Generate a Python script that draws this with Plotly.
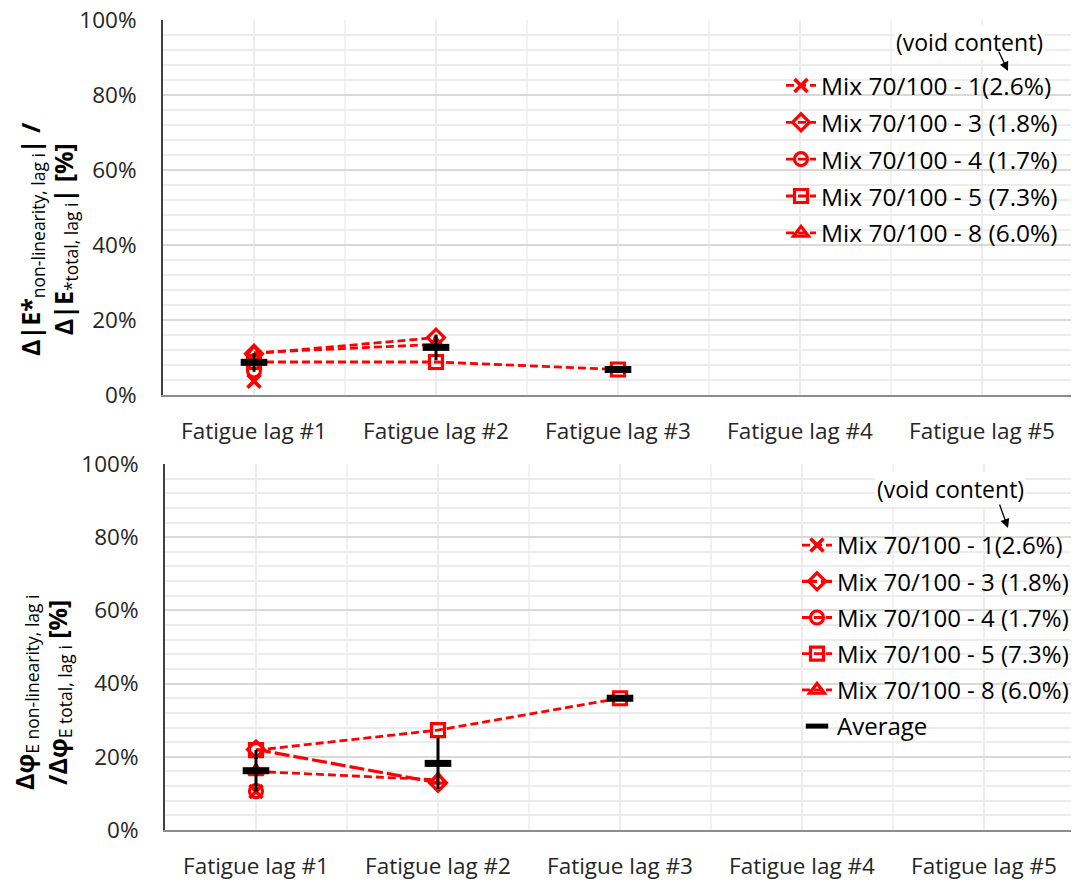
import plotly.graph_objects as go

categories = ["Fatigue lag #1", "Fatigue lag #2", "Fatigue lag #3", "Fatigue lag #4", "Fatigue lag #5"]
series_names = ["Mix 70/100 - 1(2.6%)", "Mix 70/100 - 3 (1.8%)", "Mix 70/100 - 4 (1.7%)",
                "Mix 70/100 - 5 (7.3%)", "Mix 70/100 - 8 (6.0%)"]
y_ticks = [0, 20, 40, 60, 80, 100]
y_tick_text = ["0%", "20%", "40%", "60%", "80%", "100%"]

# Top panel: Δ|E*non-linearity| / Δ|E*total| [%]
top_mix1 = [3.7]
top_mix3 = [11.0, 15.3]
top_mix4 = [6.5]
top_mix5 = [8.8, 8.8, 6.8]
top_mix8 = [11.3, 13.5]
top_avg = [8.7, 12.7, 6.8]
top_avg_err = [2.5, 3.4, 0.0]

# Bottom panel: ΔφE non-linearity / ΔφE total [%]
bot_mix1 = [10.5]
bot_mix3 = [22.0, 12.9]
bot_mix4 = [10.6]
bot_mix5 = [21.8, 27.3, 36.0]
bot_mix8 = [16.0, 13.7]
bot_avg = [16.2, 18.2, 36.0]
bot_avg_err = [5.7, 7.0, 0.0]

W, H = 1079, 883
OFF = 8  # page body offset of the plot div
RED = "#ff0000"
FONT = "Open Sans"
symbols = ["x-thin", "diamond-open", "circle-open", "square-open", "triangle-up-open"]


def px_x(p):
    return (p - OFF) / W


def px_y(p):
    return 1 - (p - OFF) / H


fig = go.Figure()


def add_panel(values, avg, err, xa, ya, legend, show_avg_legend, dashes):
    for i, (name, vals) in enumerate(zip(series_names, values)):
        sym = symbols[i]
        mline = dict(color=RED, width=3.6 if sym == "x-thin" else 3.2)
        fig.add_trace(go.Scatter(
            x=categories[:len(vals)], y=vals, name=name, mode="lines+markers",
            xaxis=xa, yaxis=ya, legend=legend, legendgroup=legend + str(i),
            line=dict(color=RED, width=dashes[i][1], dash=dashes[i][0]),
            marker=dict(symbol=sym, size=13, color=RED, line=mline),
        ))
    fig.add_trace(go.Scatter(
        x=categories[:len(avg)], y=avg, name="Average", mode="markers",
        xaxis=xa, yaxis=ya, legend=legend, legendgroup=legend + "avg",
        showlegend=show_avg_legend,
        marker=dict(symbol="line-ew", size=19, color="black", line=dict(color="black", width=7)),
        error_y=dict(type="data", array=err, visible=True, color="black", thickness=3, width=0),
    ))


short = ("8px,4px", 2.8)
add_panel([top_mix1, top_mix3, top_mix4, top_mix5, top_mix8], top_avg, top_avg_err,
          "x", "y", "legend", False, [short] * 5)
add_panel([bot_mix1, bot_mix3, bot_mix4, bot_mix5, bot_mix8], bot_avg, bot_avg_err,
          "x2", "y2", "legend2", True, [short, ("15px,4px", 3.2), short, short, short])

tick_font = dict(family=FONT, size=22.5, color="#262626")


def xaxis(dom, anchor):
    return dict(domain=dom, anchor=anchor, type="category", categoryarray=categories,
                range=[-0.5, 4.5], showgrid=True, gridcolor="#ececec", gridwidth=1.5,
                showline=True, linecolor="#8c8c8c", linewidth=2, ticks="",
                tickfont=tick_font, ticklabelstandoff=15, zeroline=False, fixedrange=True,
                automargin=False, ticklabeloverflow="allow")


def yaxis(dom, anchor):
    return dict(domain=dom, anchor=anchor, range=[0, 100], tickmode="array",
                tickvals=y_ticks, ticktext=y_tick_text,
                showgrid=True, gridcolor="#d9d9d9", gridwidth=1.5,
                minor=dict(dtick=4, showgrid=True, gridcolor="#ececec", gridwidth=1.5),
                showline=True, linecolor="#404040", linewidth=2, ticks="",
                tickfont=tick_font, ticklabelstandoff=20, zeroline=False, fixedrange=True,
                automargin=False, ticklabeloverflow="allow")


top_x = [px_x(163), px_x(1073)]
top_y = [px_y(395), px_y(20)]
bot_x = [px_x(165), px_x(1075)]
bot_y = [px_y(830), px_y(464)]

shapes = []
for xr, yr in (("x", "y"), ("x2", "y2")):
    for b in [0.5, 1.5, 2.5, 3.5, 4.5]:
        shapes.append(dict(type="line", xref=xr, yref=yr, x0=b, x1=b, y0=0, y1=100,
                           line=dict(color="#ececec", width=1.5), layer="below"))

ann_font = dict(family=FONT, size=23, color="black")
title_font = dict(family=FONT, size=25, color="black")
annotations = [
    dict(text="<b>Δ|E*</b><sub>non-linearity, lag i</sub><b>| /</b><br>"
              "<b>Δ|E</b><sub>*total, lag i</sub><b>| [%]</b>",
         xref="paper", yref="paper", x=px_x(48), y=px_y(239), textangle=-90,
         showarrow=False, font=title_font, xanchor="center", yanchor="middle"),
    dict(text="<b>Δφ</b><sub>E non-linearity, lag i</sub><br>"
              "<b>/Δφ</b><sub>E total, lag i</sub><b> [%]</b>",
         xref="paper", yref="paper", x=px_x(42), y=px_y(692), textangle=-90,
         showarrow=False, font=title_font, xanchor="center", yanchor="middle"),
    dict(text="(void content)", xref="paper", yref="paper", x=px_x(969), y=px_y(42),
         showarrow=False, font=ann_font, bgcolor="white", xanchor="center", yanchor="middle"),
    dict(text="(void content)", xref="paper", yref="paper", x=px_x(950), y=px_y(489),
         showarrow=False, font=ann_font, bgcolor="white", xanchor="center", yanchor="middle"),
    dict(text="", xref="paper", yref="paper", x=px_x(1008), y=px_y(71), ax=-10, ay=-21,
         showarrow=True, arrowhead=2, arrowsize=1.4, arrowwidth=1.3, arrowcolor="black"),
    dict(text="", xref="paper", yref="paper", x=px_x(1008), y=px_y(528), ax=-9, ay=-25,
         showarrow=True, arrowhead=2, arrowsize=1.4, arrowwidth=1.3, arrowcolor="black"),
]

legend_common = dict(xanchor="left", yanchor="top", bgcolor="rgba(0,0,0,0)",
                     traceorder="grouped", tracegroupgap=2, itemwidth=30)

fig.update_layout(
    width=W, height=H, margin=dict(l=0, r=0, t=0, b=0, autoexpand=False),
    paper_bgcolor="white", plot_bgcolor="white",
    font=dict(family=FONT, color="black"),
    xaxis=xaxis(top_x, "y"), yaxis=yaxis(top_y, "x"),
    xaxis2=xaxis(bot_x, "y2"), yaxis2=yaxis(bot_y, "x2"),
    legend=dict(x=px_x(781), y=px_y(63), font=dict(family=FONT, size=24.5, color="black"),
                **legend_common),
    legend2=dict(x=px_x(797), y=px_y(523), font=dict(family=FONT, size=24, color="black"),
                 **legend_common),
    shapes=shapes, annotations=annotations,
)

fig.write_html("out.html")
